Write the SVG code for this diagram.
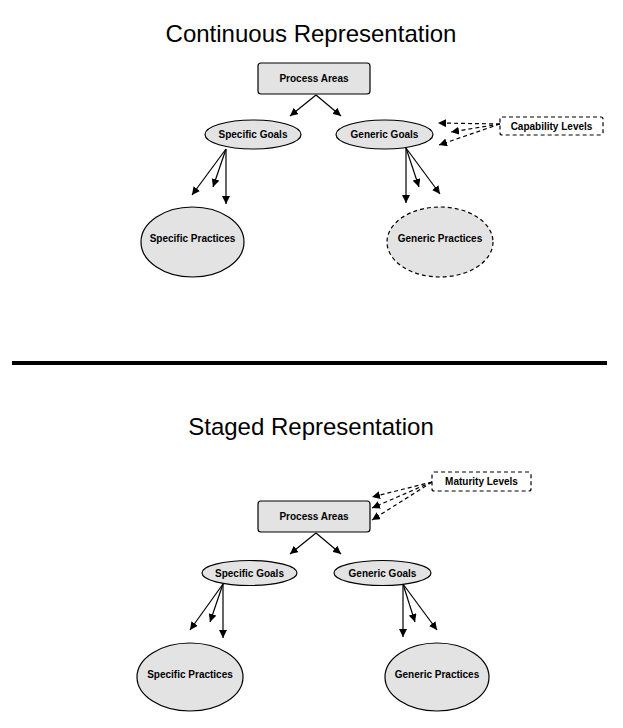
<svg xmlns="http://www.w3.org/2000/svg" width="623" height="728" viewBox="0 0 623 728">
<style>
.title{font-family:"Liberation Sans",Arial,sans-serif;font-size:24px;fill:#000;text-anchor:middle}
.lbl{font-family:"Liberation Sans",Arial,sans-serif;font-size:10px;font-weight:bold;fill:#000;text-anchor:middle;dominant-baseline:central}
.node{fill:#e3e3e3;stroke:#000;stroke-width:1.2}
.dnode{fill:#e3e3e3;stroke:#000;stroke-width:1.2;stroke-dasharray:4,3}
.dbox{fill:#fff;stroke:#000;stroke-width:1.2;stroke-dasharray:4,3}
.c{stroke:#000;stroke-width:1.2;fill:none;marker-end:url(#ah)}
.dc{stroke:#000;stroke-width:1.2;fill:none;stroke-dasharray:4,3;marker-end:url(#ah)}
</style>
<defs>
<marker id="ah" viewBox="0 0 10 10" refX="10" refY="5" markerWidth="8" markerHeight="8" markerUnits="userSpaceOnUse" orient="auto">
<path d="M0,0 L10,5 L0,10 Z" fill="#000"/>
</marker>
</defs>
<rect width="623" height="728" fill="#fff"/>
<text class="title" x="311" y="42">Continuous Representation</text>
<text class="title" x="311" y="435">Staged Representation</text>
<line x1="12" y1="363" x2="607" y2="363" stroke="#000" stroke-width="4"/>

<g id="connectors">
<line class="c" x1="316" y1="95" x2="290" y2="116"/>
<line class="c" x1="316" y1="95" x2="341" y2="116"/>
<line class="c" x1="226" y1="149" x2="192" y2="195"/>
<line class="c" x1="226" y1="149" x2="213" y2="187"/>
<line class="c" x1="226" y1="149" x2="226" y2="204"/>
<line class="c" x1="406" y1="148" x2="406" y2="203"/>
<line class="c" x1="406" y1="148" x2="419" y2="187"/>
<line class="c" x1="406" y1="148" x2="440" y2="194"/>
<line class="dc" x1="500" y1="124" x2="438" y2="123"/>
<line class="dc" x1="500" y1="124" x2="451" y2="132"/>
<line class="dc" x1="500" y1="124" x2="439" y2="145"/>

<line class="c" x1="316" y1="533" x2="290" y2="554"/>
<line class="c" x1="316" y1="533" x2="341" y2="554"/>
<line class="c" x1="223" y1="584" x2="190" y2="630"/>
<line class="c" x1="223" y1="584" x2="210" y2="622"/>
<line class="c" x1="223" y1="584" x2="223" y2="638"/>
<line class="c" x1="403" y1="584" x2="403" y2="637"/>
<line class="c" x1="403" y1="584" x2="415" y2="622"/>
<line class="c" x1="403" y1="584" x2="437" y2="630"/>
<line class="dc" x1="432" y1="482" x2="372" y2="497"/>
<line class="dc" x1="432" y1="482" x2="372" y2="508"/>
<line class="dc" x1="432" y1="482" x2="372" y2="520"/>
</g>

<g id="c-process-areas"><rect class="node" x="258" y="63" width="112" height="31" rx="3"/><text class="lbl" x="314" y="78.5">Process Areas</text></g>
<g id="c-specific-goals"><ellipse class="node" cx="253" cy="134.5" rx="48" ry="14.5"/><text class="lbl" x="253" y="134.5">Specific Goals</text></g>
<g id="c-generic-goals"><ellipse class="node" cx="384.5" cy="134.5" rx="48.5" ry="14.5"/><text class="lbl" x="384.5" y="134.5">Generic Goals</text></g>
<g id="c-capability-levels"><rect class="dbox" x="500" y="117" width="103" height="18" rx="2"/><text class="lbl" x="551.5" y="126">Capability Levels</text></g>
<g id="c-specific-practices"><ellipse class="node" cx="192.5" cy="242" rx="51.5" ry="35"/><text class="lbl" x="192.5" y="238">Specific Practices</text></g>
<g id="c-generic-practices"><ellipse class="dnode" cx="440" cy="242" rx="53" ry="35"/><text class="lbl" x="440" y="238">Generic Practices</text></g>

<g id="s-maturity-levels"><rect class="dbox" x="432" y="472" width="99" height="19" rx="2"/><text class="lbl" x="481.5" y="481.5">Maturity Levels</text></g>
<g id="s-process-areas"><rect class="node" x="258" y="501" width="112" height="31" rx="3"/><text class="lbl" x="314" y="516.5">Process Areas</text></g>
<g id="s-specific-goals"><ellipse class="node" cx="249.5" cy="573" rx="47.5" ry="12.5"/><text class="lbl" x="249.5" y="573">Specific Goals</text></g>
<g id="s-generic-goals"><ellipse class="node" cx="382.5" cy="573" rx="48.5" ry="12.5"/><text class="lbl" x="382.5" y="573">Generic Goals</text></g>
<g id="s-specific-practices"><ellipse class="node" cx="190" cy="677" rx="53" ry="34"/><text class="lbl" x="190" y="674">Specific Practices</text></g>
<g id="s-generic-practices"><ellipse class="node" cx="437" cy="677" rx="52" ry="34"/><text class="lbl" x="437" y="674">Generic Practices</text></g>
</svg>
